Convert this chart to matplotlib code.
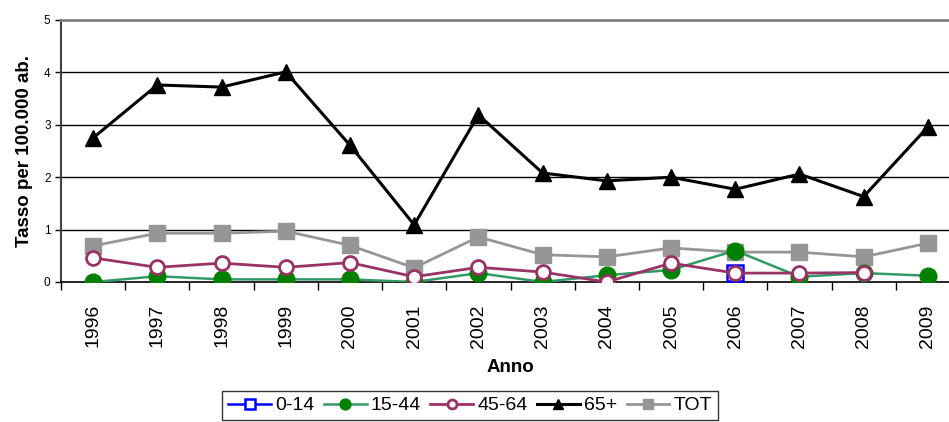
import numpy as np
import matplotlib
matplotlib.use("Agg")
import matplotlib.pyplot as plt

plt.rcParams["font.family"] = ["Liberation Sans", "DejaVu Sans"]

years = ["1996", "1997", "1998", "1999", "2000", "2001", "2002",
         "2003", "2004", "2005", "2006", "2007", "2008", "2009"]
nan = np.nan
r_0_14 = [nan, nan, nan, nan, nan, nan, nan, nan, nan, nan, 0.17, nan, nan, nan]
r_15_44 = [0.0, 0.11, 0.05, 0.05, 0.05, 0.0, 0.17, 0.0, 0.13, 0.23, 0.60, 0.10, 0.17, 0.12]
r_45_64 = [0.46, 0.28, 0.36, 0.28, 0.37, 0.10, 0.28, 0.19, 0.0, 0.36, 0.17, 0.17, 0.18, nan]
r_65 = [2.75, 3.76, 3.72, 4.01, 2.61, 1.09, 3.19, 2.08, 1.93, 2.00, 1.77, 2.06, 1.63, 2.96]
r_tot = [0.69, 0.93, 0.93, 0.97, 0.70, 0.27, 0.86, 0.52, 0.48, 0.65, 0.57, 0.57, 0.48, 0.74]

fig = plt.figure(figsize=(9.49, 4.22), dpi=100)
ax = fig.add_axes([61 / 949, 1 - 282 / 422, 899 / 949, 262 / 422])

x = np.arange(len(years))
ax.plot(x, r_0_14, color="#0000ff", lw=1.8, marker="s", ms=12,
        mfc="white", mec="#0000ff", mew=1.8, label="0-14", zorder=3)
ax.plot(x, r_15_44, color="#339966", lw=1.8, marker="o", ms=12,
        mfc="#008000", mec="#008000", label="15-44", zorder=4)
ax.plot(x, r_45_64, color="#993366", lw=2, marker="o", ms=10,
        mfc="white", mec="#993366", mew=2, label="45-64", zorder=5)
ax.plot(x, r_65, color="black", lw=2.2, marker="^", ms=11,
        mfc="black", mec="black", label="65+", zorder=6)
ax.plot(x, r_tot, color="#969696", lw=2, marker="s", ms=11,
        mfc="#969696", mec="#969696", label="TOT", zorder=2)

ax.set_xlim(-0.5, len(years) - 0.5)
ax.set_ylim(0, 5)
ax.set_yticks(range(6))
ax.set_xticks(x)
ax.set_xticklabels(years, rotation=90, fontsize=14)
ax.set_xticks(np.arange(-0.5, len(years), 1), minor=True)
ax.tick_params(axis="x", which="major", length=0, pad=16)
ax.tick_params(axis="x", which="minor", length=6, width=1, color="black")
ax.tick_params(axis="y", labelsize=8.5, length=4, width=1)

for v in range(1, 5):
    ax.axhline(v, color="black", lw=1, zorder=1)
ax.spines["top"].set_color("#808080")
ax.spines["top"].set_linewidth(2)
ax.spines["right"].set_visible(False)
ax.spines["left"].set_color("#404040")
ax.spines["left"].set_linewidth(1.5)
ax.spines["bottom"].set_color("black")
ax.spines["bottom"].set_linewidth(1.2)

ax.set_ylabel("Tasso per 100.000 ab.", fontsize=13.5, fontweight="bold", labelpad=8)
ax.set_xlabel("Anno", fontsize=13.5, fontweight="bold", labelpad=8)

handles, labels = ax.get_legend_handles_labels()
leg = fig.legend(handles, labels, loc="upper center", ncol=5,
                 bbox_to_anchor=(470 / 949, 1 - 391 / 422),
                 fontsize=14, frameon=True, fancybox=False, edgecolor="black",
                 handlelength=2.2, handletextpad=0.2, columnspacing=0.5,
                 borderpad=0.3, borderaxespad=0, markerscale=0.65)
leg.get_frame().set_linewidth(1)

fig.savefig("out.png", dpi=100)
